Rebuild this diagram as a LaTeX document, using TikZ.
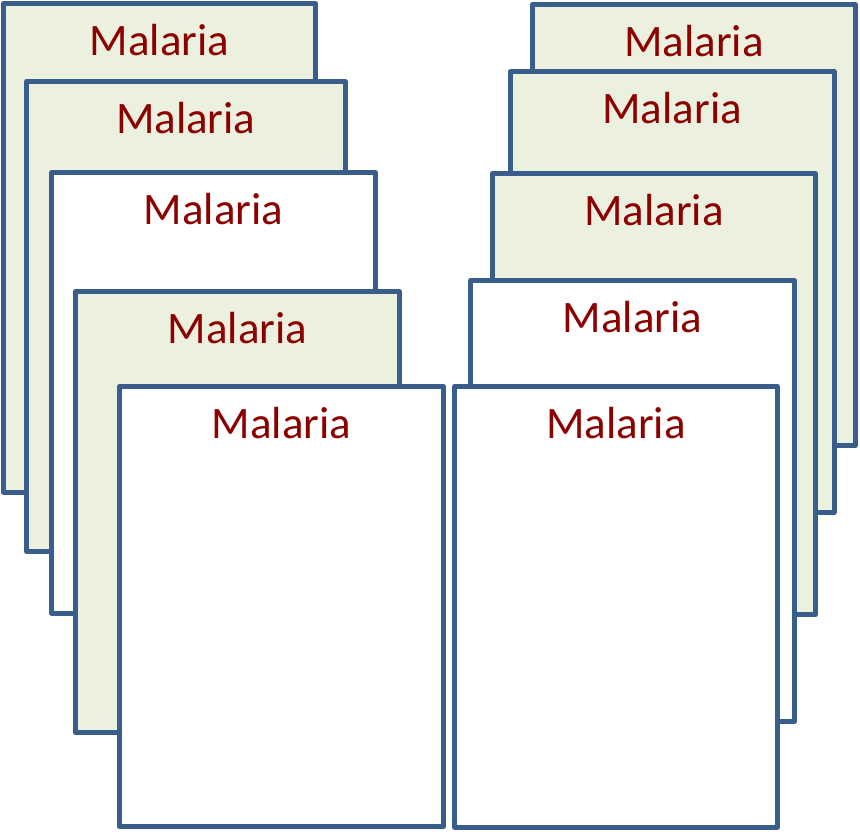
\documentclass[tikz,border=0pt]{standalone}
\usepackage{fontspec}
\setmainfont{Carlito}
\definecolor{cardline}{RGB}{58,94,140}
\definecolor{cardgreen}{RGB}{235,240,223}
\definecolor{wordred}{RGB}{140,0,0}
\tikzset{
    card/.style={draw=cardline, line width=5pt, rectangle, anchor=north west,
        outer sep=0pt, inner sep=0pt, line join=round},
    word/.style={anchor=base, text=wordred, inner sep=0pt,
        font=\fontsize{45}{54}\selectfont},
}
\begin{document}
\begin{tikzpicture}[x=1pt, y=-1pt]
    \useasboundingbox (0,0) rectangle (860,836);

    % left stack
    \node[card, fill=cardgreen, minimum width=312pt, minimum height=488.5pt] (l1) at (3.5,3.5) {};
    \node[word] (w1) at ([yshift=-51.5pt]l1.north) {Malaria};
    \node[card, fill=cardgreen, minimum width=318.5pt, minimum height=470pt] (l2) at (26.5,81.5) {};
    \node[word] (w2) at ([yshift=-51.5pt]l2.north) {Malaria};
    \node[card, fill=white, minimum width=324pt, minimum height=440.5pt] (l3) at (51.5,172.5) {};
    \node[word] (w3) at ([yshift=-51.5pt]l3.north) {Malaria};
    \node[card, fill=cardgreen, minimum width=324pt, minimum height=441pt] (l4) at (75.5,291.5) {};
    \node[word] (w4) at ([yshift=-51.5pt]l4.north) {Malaria};
    \node[card, fill=white, minimum width=324pt, minimum height=440pt] (l5) at (119.5,386.5) {};
    \node[word] (w5) at ([yshift=-51.5pt]l5.north) {Malaria};

    % right stack
    \node[card, fill=cardgreen, minimum width=323pt, minimum height=441pt] (r1) at (532.5,4.5) {};
    \node[word] (v1) at ([yshift=-51.5pt]r1.north) {Malaria};
    \node[card, fill=cardgreen, minimum width=323.5pt, minimum height=441pt] (r2) at (510.5,71.5) {};
    \node[word] (v2) at ([yshift=-51.5pt]r2.north) {Malaria};
    \node[card, fill=cardgreen, minimum width=323pt, minimum height=441pt] (r3) at (492.5,173.5) {};
    \node[word] (v3) at ([yshift=-51.5pt]r3.north) {Malaria};
    \node[card, fill=white, minimum width=324pt, minimum height=441pt] (r4) at (470.5,280.5) {};
    \node[word] (v4) at ([yshift=-51.5pt]r4.north) {Malaria};
    \node[card, fill=white, minimum width=323pt, minimum height=440.5pt] (r5) at (454.5,386.5) {};
    \node[word] (v5) at ([yshift=-51.5pt]r5.north) {Malaria};

\end{tikzpicture}
\end{document}
